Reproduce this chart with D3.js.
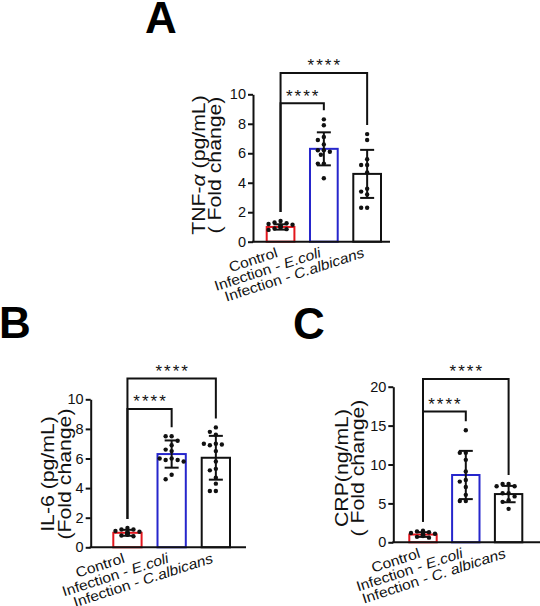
<!DOCTYPE html>
<html>
<head>
<meta charset="utf-8">
<script src="https://cdn.jsdelivr.net/npm/d3@7"></script>
<style>
  body { margin: 0; background: #fff; }
  svg { display: block; font-family: "Liberation Sans", Arial, sans-serif; }
</style>
</head>
<body>
<div id="container"></div>
<script>
/* DATA */
const groupsAB = ["Control", "Infection - E.coli", "Infection - C.albicans"];
const groupsC = ["Control", "Infection - E.coli", "Infection - C. albicans"];

const ticks10 = [0, 2, 4, 6, 8, 10];
const ticks20 = [0, 5, 10, 15, 20];

// TNF-alpha
const tnfMean = [1.0, 6.3, 4.6];
const tnfSd = [0.18, 1.12, 1.63];
const tnfPoints = [
  [1.4, 1.3, 1.25, 1.2, 1.15, 1.1, 1.05, 1.0, 0.95, 0.9, 0.85, 0.8],
  [8.3, 7.9, 7.1, 6.9, 6.6, 6.2, 6.2, 6.1, 5.9, 5.3, 5.3, 4.3],
  [7.3, 6.9, 5.6, 5.2, 5.2, 4.7, 3.6, 3.4, 3.2, 2.3, 2.3]
];

// IL-6
const il6Mean = [0.98, 6.3, 6.05];
const il6Sd = [0.2, 0.92, 1.48];
const il6Points = [
  [1.3, 1.2, 1.2, 1.1, 1.05, 1.0, 0.95, 0.9, 0.85, 0.8, 0.75, 0.9, 1.0],
  [7.5, 7.5, 7.2, 6.9, 6.6, 6.5, 6.0, 5.9, 5.9, 6.0, 5.8, 4.9, 4.6],
  [8.1, 7.8, 7.6, 7.0, 6.9, 6.95, 7.0, 6.5, 5.8, 5.3, 5.2, 4.7, 4.3, 3.8, 3.8]
];

// CRP
const crpMean = [1.0, 8.65, 6.2];
const crpSd = [0.3, 3.1, 1.05];
const crpPoints = [
  [1.5, 1.4, 1.3, 1.2, 1.1, 1.0, 0.9, 0.8, 0.7, 0.6, 1.0],
  [14.4, 11.5, 11.5, 10.6, 9.1, 8.0, 7.8, 7.1, 6.1, 5.3, 5.3],
  [7.5, 7.5, 7.2, 7.2, 6.3, 6.3, 5.9, 5.4, 5.2, 4.3]
];

/* STYLE AND LAYOUT */
const barColors = ["#e3161d", "#2626cc", "#111111"];
const titleStretch = 1.18;
const labelStretch = 1.1;

const panels = [
  { letter: "A", lx: 161, ly: 33, groups: groupsAB, mean: tnfMean, sd: tnfSd, pts: tnfPoints,
    ticks: ticks10, yMax: 10, axisX: 253, axisEnd: 390, y0: 241.7, yTop: 94.3,
    barL: 266.7, barR: 381, inner: 9.4, outer: 11.45,
    yLab: ["TNF-_α_ (pg/mL)", "( Fold change)"], yLabX: [204.5, 220.5], yLabY: 165 },
  { letter: "B", lx: 15, ly: 338, groups: groupsAB, mean: il6Mean, sd: il6Sd, pts: il6Points,
    ticks: ticks10, yMax: 10, axisX: 90.7, axisEnd: 246, y0: 547.3, yTop: 399.3,
    barL: 113.3, barR: 230, inner: 9.35, outer: 11.4,
    yLab: ["IL-6 (pg/mL)", "(Fold change)"], yLabX: [54, 70.5], yLabY: 474 },
  { letter: "C", lx: 309, ly: 339, groups: groupsC, mean: crpMean, sd: crpSd, pts: crpPoints,
    ticks: ticks20, yMax: 20, axisX: 393.3, axisEnd: 540, y0: 542.3, yTop: 386.7,
    barL: 409.3, barR: 522.3, inner: 16.8, outer: 21.0,
    yLab: ["CRP(ng/mL)", "( Fold change)"], yLabX: [348, 364], yLabY: 468 }
];

const svg = d3.select("#container")
  .append("svg")
  .attr("width", 540)
  .attr("height", 606);

// spread dots sideways so they don't sit on top of each other
function swarm(vals, y, r) {
  const placed = [];
  const offs = [0, -6, 6, -3, 3, -9, 9, -12, 12];
  return vals.map(v => {
    const py = y(v);
    let dx = offs.find(o => placed.every(p => Math.hypot(p.x - o, p.y - py) >= 2 * r + 0.8));
    if (dx === undefined) dx = 0;
    placed.push({ x: dx, y: py });
    return { v, dx };
  });
}

function richText(sel, str) {
  str.split("_").forEach((part, i) => {
    if (!part) return;
    sel.append("tspan")
      .attr("font-style", i % 2 ? "italic" : null)
      .text(part);
  });
}

panels.forEach(p => {
  const g = svg.append("g");

  const x = d3.scaleBand()
    .domain(p.groups)
    .range([p.barL, p.barR])
    .paddingInner(0.36);

  const y = d3.scaleLinear()
    .domain([0, p.yMax])
    .range([p.y0, p.yTop]);

  const bw = x.bandwidth();
  const cx = d => x(d) + bw / 2;

  // bars
  g.selectAll("rect.bar")
    .data(p.groups)
    .join("rect")
    .attr("class", "bar")
    .attr("x", d => x(d))
    .attr("y", (d, i) => y(p.mean[i]))
    .attr("width", bw)
    .attr("height", (d, i) => y(0) - y(p.mean[i]))
    .attr("fill", "#fff")
    .attr("stroke", (d, i) => barColors[i])
    .attr("stroke-width", 2);

  // dots
  p.groups.forEach((grp, i) => {
    g.append("g")
      .selectAll("circle")
      .data(swarm(p.pts[i], y, 2.2))
      .join("circle")
      .attr("cx", d => cx(grp) + d.dx)
      .attr("cy", d => y(d.v))
      .attr("r", 2.2)
      .attr("fill", "#111");
  });

  // error bars (mean +/- SD)
  const eb = g.selectAll("g.err")
    .data(p.groups)
    .join("g")
    .attr("class", "err")
    .attr("stroke", "#111")
    .attr("stroke-width", 2);
  eb.append("line")
    .attr("x1", d => cx(d)).attr("x2", d => cx(d))
    .attr("y1", (d, i) => y(p.mean[i] - p.sd[i]))
    .attr("y2", (d, i) => y(p.mean[i] + p.sd[i]));
  [-1, 1].forEach(s => {
    eb.append("line")
      .attr("x1", d => cx(d) - 7).attr("x2", d => cx(d) + 7)
      .attr("y1", (d, i) => y(p.mean[i] + s * p.sd[i]))
      .attr("y2", (d, i) => y(p.mean[i] + s * p.sd[i]));
  });

  // y axis
  const yAxis = d3.axisLeft(y)
    .tickValues(p.ticks)
    .tickSize(5)
    .tickSizeOuter(0)
    .tickPadding(2);
  const ya = g.append("g")
    .attr("transform", `translate(${p.axisX},0)`)
    .call(yAxis);
  ya.selectAll("path, line").attr("stroke", "#111").attr("stroke-width", 2);
  ya.selectAll("text")
    .attr("font-size", 14.5)
    .attr("font-family", "Liberation Sans, Arial, sans-serif")
    .attr("fill", "#111");

  // x axis line
  g.append("line")
    .attr("x1", p.axisX - 1).attr("x2", p.axisEnd)
    .attr("y1", p.y0).attr("y2", p.y0)
    .attr("stroke", "#111")
    .attr("stroke-width", 2);

  // category labels
  p.groups.forEach(grp => {
    const t = g.append("text")
      .attr("transform", `translate(${cx(grp) - 2},${p.y0 + 15}) rotate(-18) scale(${labelStretch},1)`)
      .attr("text-anchor", "end")
      .attr("font-size", 14.2)
      .attr("fill", "#111");
    const k = grp.indexOf(" - ");
    if (k < 0) t.text(grp);
    else richText(t, grp.slice(0, k + 3) + "_" + grp.slice(k + 3) + "_");
  });

  // y axis title, two lines
  p.yLab.forEach((line, i) => {
    const t = g.append("text")
      .attr("transform", `translate(${p.yLabX[i]},${p.yLabY}) rotate(-90) scale(${titleStretch},1)`)
      .attr("text-anchor", "middle")
      .attr("font-size", 18)
      .attr("fill", "#111");
    richText(t, line);
  });

  // significance brackets
  const c0 = cx(p.groups[0]);
  const top = i => y(d3.max(p.pts[i])) - 9;
  const brackets = [
    { to: 1, level: p.inner },
    { to: 2, level: p.outer }
  ];
  brackets.forEach(b => {
    const by = y(b.level);
    const c1 = cx(p.groups[b.to]);
    g.append("path")
      .attr("d", `M${c0},${top(0)}V${by}H${c1}V${top(b.to)}`)
      .attr("fill", "none")
      .attr("stroke", "#111")
      .attr("stroke-width", 2);
    g.append("text")
      .attr("x", (c0 + c1) / 2 + 1)
      .attr("y", by - 1.5)
      .attr("text-anchor", "middle")
      .attr("font-size", 17)
      .attr("letter-spacing", 2)
      .attr("fill", "#111")
      .text("****");
  });

  // panel letter
  g.append("text")
    .attr("x", p.lx)
    .attr("y", p.ly)
    .attr("text-anchor", "middle")
    .attr("font-size", 44)
    .attr("font-weight", "bold")
    .attr("fill", "#000")
    .text(p.letter);
});
</script>
</body>
</html>
